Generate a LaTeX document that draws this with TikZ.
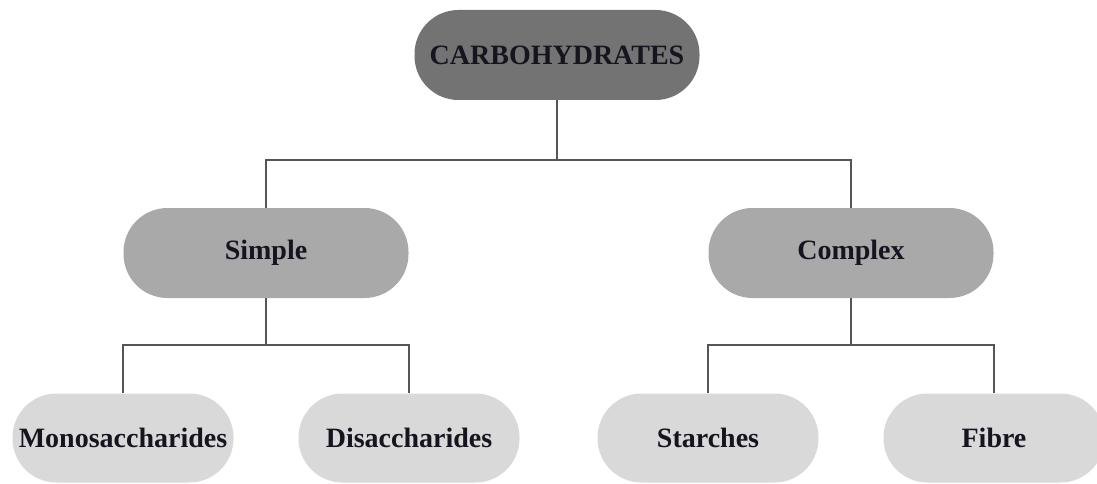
\documentclass[tikz,border=0pt]{standalone}
\usepackage{fontspec}
\setmainfont{Liberation Serif}
\definecolor{topfill}{HTML}{737373}
\definecolor{midfill}{HTML}{A9A9A9}
\definecolor{lowfill}{HTML}{D9D9D9}
\definecolor{linecol}{HTML}{555555}
\definecolor{txt}{HTML}{151520}
\begin{document}
\begin{tikzpicture}[x=1pt,y=-1pt,
  pill/.style={rounded corners=44pt, inner sep=0pt, text=txt,
    font=\fontsize{28}{32}\selectfont\bfseries},
  toppill/.style={pill, fill=topfill, minimum width=285pt, minimum height=90pt},
  midpill/.style={pill, fill=midfill, minimum width=285pt, minimum height=90pt},
  lowpill/.style={pill, fill=lowfill, minimum width=221pt, minimum height=89pt},
  conn/.style={draw=linecol, line width=1.4pt}]
\useasboundingbox (0,0) rectangle (1097,484);
\clip (0,0) rectangle (1097,484);
\node[toppill] (top) at (557,55) {CARBOHYDRATES};
\node[midpill] (simple) at (266,253) {Simple};
\node[midpill] (complex) at (851,253) {Complex};
\node[lowpill] (mono) at (123,438) {Monosaccharides};
\node[lowpill] (di) at (409,438) {Disaccharides};
\node[lowpill] (starch) at (708,438) {Starches};
\node[lowpill] (fibre) at (994,438) {Fibre};
\coordinate (bus1) at (557,160);
\coordinate (bus2) at (266,345);
\coordinate (bus3) at (851,345);
\draw[conn] (top.south) -- (bus1);
\draw[conn] (simple.north) |- (bus1) -| (complex.north);
\draw[conn] (simple.south) -- (bus2);
\draw[conn] (mono.north) |- (bus2) -| (di.north);
\draw[conn] (complex.south) -- (bus3);
\draw[conn] (starch.north) |- (bus3) -| (fibre.north);
\end{tikzpicture}
\end{document}
